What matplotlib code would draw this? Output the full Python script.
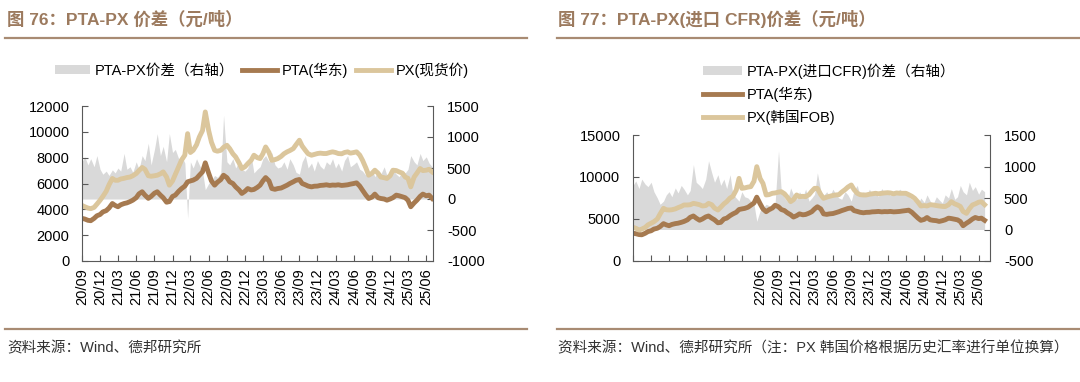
import matplotlib
matplotlib.use('Agg')
import matplotlib.pyplot as plt
from matplotlib.lines import Line2D
from matplotlib.patches import Patch
import pandas as pd

plt.rcParams['font.family'] = ['Liberation Sans', 'Noto Sans CJK SC']
plt.rcParams['axes.unicode_minus'] = False

# semi-monthly observations, 2020/09 .. 2025/07
dates = pd.date_range('2020-09-01', periods=117, freq='SMS').to_pydatetime()
tick_dates = pd.date_range('2020-09-01', '2025-06-01', freq='3MS').to_pydatetime()
tick_labels = [d.strftime('%y/%m') for d in tick_dates]

# PTA(华东), yuan/t (same series in both charts)
pta = [3300, 3250, 3150, 3120, 3300, 3500, 3600, 3800, 3900, 4100,
       4450, 4300, 4200, 4350, 4450, 4500, 4600, 4710, 4900, 5200,
       5360, 5100, 4850, 5000, 5250, 5360, 5100, 4900, 4550, 4600,
       5000, 5100, 5400, 5600, 5800, 6130, 6200, 6260, 6400, 6640,
       6900, 7600, 6800, 6200, 5870, 6100, 6300, 6640, 6450, 6130,
       6000, 5740, 5500, 5230, 5400, 5610, 5500, 5540, 5700, 5870,
       6200, 6460, 6200, 5610, 5550, 5610, 5650, 5750, 5870, 6000,
       6130, 6250, 6310, 6000, 5900, 5800, 5740, 5790, 5800, 5850,
       5870, 5900, 5850, 5880, 5870, 5900, 5850, 5870, 5900, 5950,
       6000, 6050, 5800, 5480, 5100, 4840, 4950, 5180, 4900, 4840,
       4800, 4710, 4800, 4900, 5100, 5050, 4970, 4900, 4700, 4200,
       4500, 4710, 5000, 5180, 5050, 5100, 4840]

# PX(现货价)
px_spot = [4300, 4200, 4100, 4050, 4150, 4400, 4700, 5000, 5400, 5900,
           6390, 6250, 6250, 6350, 6400, 6460, 6500, 6600, 6770, 7000,
           7240, 7100, 6600, 6560, 6600, 6640, 6750, 6900, 6500, 5870,
           6200, 6700, 7300, 7800, 8200, 9860, 8400, 8570, 9000, 9600,
           10100, 11540, 10100, 9200, 8570, 8500, 8570, 8800, 8960, 8700,
           8300, 8060, 7600, 7160, 7300, 7540, 7800, 8190, 8000, 7930,
           8300, 8830, 8400, 7800, 7850, 7930, 8100, 8300, 8450, 8550,
           8700, 9000, 9350, 8900, 8570, 8300, 8190, 8250, 8320, 8350,
           8320, 8320, 8400, 8450, 8400, 8320, 8300, 8400, 8450, 8350,
           8400, 8450, 8200, 7800, 7200, 6640, 6800, 7030, 6800, 6500,
           6450, 6390, 6600, 7030, 7000, 6900, 6800, 6500, 6400, 5740,
           6500, 6800, 7160, 7000, 7030, 7100, 6900]

# PTA-PX spread (right axis)
spread_spot = [600, 680, 550, 650, 520, 700, 480, 400, 450, 380,
               470, 420, 500, 450, 735, 480, 520, 430, 600, 480,
               700, 620, 900, 550, 800, 1055, 700, 850, 600, 1055,
               750, 800, 650, 700, 580, -310, 600, 500, 650, 550,
               450, 150, 250, 300, 380, 350, 420, 1350, 600, 550,
               650, 500, 600, 480, 450, 500, 700, 420, 480, 520,
               650, 700, 600, 750, 550, 500, 520, 600, 480, 650,
               550, 430, 400, 600, 700, 500, 580, 450, 620, 530,
               480, 600, 550, 650, 500, 580, 450, 620, 700, 520,
               560, 600, 480, 450, 380, 420, 470, 360, 450, 400,
               520, 380, 430, 470, 400, 360, 450, 420, 480, 700,
               600, 550, 735, 620, 680, 580, 520]

# PX(韩国FOB), converted to yuan/t
px_fob = [4010, 3900, 3690, 3800, 4000, 4300, 4500, 4680, 5000, 5600,
          6270, 6100, 6070, 6100, 6200, 6350, 6500, 6670, 6670, 6700,
          6860, 6800, 6700, 6550, 6600, 6860, 6700, 6300, 6070, 6400,
          6800, 7060, 7500, 7700, 8450, 9840, 8650, 8700, 8800, 8850,
          9500, 11230, 9800, 9240, 7860, 7900, 8060, 8100, 8200, 8250,
          8000, 7600, 7070, 7300, 7860, 7660, 7700, 7660, 7900, 8300,
          8650, 8650, 7900, 7460, 7600, 7700, 7800, 7860, 7900, 8200,
          8500, 8800, 9050, 8500, 8060, 7900, 7860, 7860, 7950, 8000,
          8060, 8000, 8060, 8100, 8130, 8100, 8000, 8100, 8060, 8060,
          8060, 7900, 7700, 7460, 7000, 6550, 6600, 6550, 6700, 6670,
          6600, 6550, 6500, 6480, 6700, 7060, 6800, 6670, 6500, 5900,
          5670, 6200, 6670, 6800, 7000, 7060, 6700]

# PTA-PX(进口CFR) spread (right axis)
spread_cfr = [700, 770, 650, 800, 720, 680, 750, 600, 500, 400,
              450, 550, 600, 520, 660, 580, 700, 640, 550, 620,
              1030, 750, 700, 650, 800, 1090, 900, 750, 870, 700,
              800, 650, 870, 560, 500, 450, 600, 520, 500, 450,
              400, 130, 300, 345, 400, 380, 300, 420, 1250, 600,
              500, 450, 660, 550, 480, 600, 520, 640, 450, 500,
              560, 900, 620, 540, 600, 520, 640, 560, 500, 480,
              600, 550, 450, 620, 700, 540, 600, 520, 640, 560,
              600, 520, 650, 580, 600, 540, 620, 580, 640, 600,
              560, 520, 480, 450, 400, 500, 430, 550, 450, 400,
              520, 470, 420, 550, 500, 650, 480, 520, 700, 600,
              550, 750, 620, 680, 560, 640, 600]

BROWN = '#A67A50'
TAN = '#DBC69C'
GRAY = '#D9D9D9'
TITLE_C = '#9C7A5E'
RULE_C = '#A88B73'
SPINE_C = '#595959'
FS = 10.5
LW = 3.5

W, H = 1080, 382
fig = plt.figure(figsize=(W / 100, H / 100), dpi=100)


def fx(p):
    return p / W


def fy(p):
    return 1 - p / H


def panel(left, right, top, bottom, px, spread, ylim, ystep, rlim, xend, shown_from):
    ax = fig.add_axes([fx(left), fy(bottom), fx(right) - fx(left), fy(top) - fy(bottom)])
    r = ax.twinx()
    r.fill_between(dates, 0, spread, color=GRAY, lw=0)
    ax.plot(dates, pta, color=BROWN, lw=LW, solid_joinstyle='round')
    ax.plot(dates, px, color=TAN, lw=LW, solid_joinstyle='round')
    ax.set_zorder(r.get_zorder() + 1)
    ax.patch.set_visible(False)

    ax.set_xlim(dates[0], pd.Timestamp(xend).to_pydatetime())
    ax.set_ylim(*ylim)
    ax.set_yticks(range(ylim[0], ylim[1] + 1, ystep))
    r.set_ylim(*rlim)
    r.set_yticks(range(rlim[0], rlim[1] + 1, 500))
    ax.set_xticks(tick_dates)
    labels = [t if i >= shown_from else '' for i, t in enumerate(tick_labels)]
    ax.set_xticklabels(labels, rotation=90)

    for a in (ax, r):
        for s in a.spines.values():
            s.set_visible(False)
        a.tick_params(direction='in', length=4, width=0.8, color=SPINE_C,
                      labelsize=FS, labelcolor='black')
    ax.spines['left'].set_visible(True)
    ax.spines['bottom'].set_visible(True)
    r.spines['right'].set_visible(True)
    for s in (ax.spines['left'], ax.spines['bottom'], r.spines['right']):
        s.set_color(SPINE_C)
        s.set_linewidth(0.8)
    ax.tick_params(axis='y', pad=9)
    ax.tick_params(axis='x', pad=5)
    r.tick_params(axis='y', pad=10)
    return ax


panel(82, 433, 106, 261, px_spot, spread_spot, (0, 12000), 2000, (-1000, 1500),
      '2025-07-05', 0)
panel(633, 990, 135, 261, px_fob, spread_cfr, (0, 15000), 5000, (-500, 1500),
      '2025-07-28', 7)

# legends
h1 = [Patch(facecolor=GRAY, edgecolor='none'),
      Line2D([], [], color=BROWN, lw=LW),
      Line2D([], [], color=TAN, lw=LW)]
fig.legend(h1, ['PTA-PX价差（右轴）', 'PTA(华东)', 'PX(现货价)'], ncol=3,
           loc='center', bbox_to_anchor=(fx(262), fy(70)), frameon=False,
           fontsize=FS, handlelength=2.4, handletextpad=0.35, columnspacing=0.5,
           borderpad=0, handleheight=0.5)
fig.legend(h1, ['PTA-PX(进口CFR)价差（右轴）', 'PTA(华东)', 'PX(韩国FOB)'],
           loc='center left', bbox_to_anchor=(fx(703), fy(94)), frameon=False,
           fontsize=FS, handlelength=2.7, handletextpad=0.3, labelspacing=0.55,
           borderpad=0, borderaxespad=0, handleheight=0.5)

# headers and footers
fig.text(fx(7), fy(19), '图 76：PTA-PX 价差（元/吨）', fontsize=12.5,
         fontweight='bold', color=TITLE_C, va='center', ha='left')
fig.text(fx(558), fy(19), '图 77：PTA-PX(进口 CFR)价差（元/吨）', fontsize=12.5,
         fontweight='bold', color=TITLE_C, va='center', ha='left')
for x0, x1 in ((5, 527), (557, 1080)):
    fig.add_artist(Line2D([fx(x0), fx(x1)], [fy(37.5), fy(37.5)], color=RULE_C, lw=1.6))
    fig.add_artist(Line2D([fx(x0), fx(x1)], [fy(328.5), fy(328.5)], color=RULE_C, lw=1.6))

fig.text(fx(7), fy(348), '资料来源：Wind、德邦研究所', fontsize=FS,
         color='#333333', va='center', ha='left')
fig.text(fx(558), fy(348), '资料来源：Wind、德邦研究所（注：PX 韩国价格根据历史汇率进行单位换算）',
         fontsize=FS, color='#333333', va='center', ha='left')

fig.savefig('out.png', dpi=100)
